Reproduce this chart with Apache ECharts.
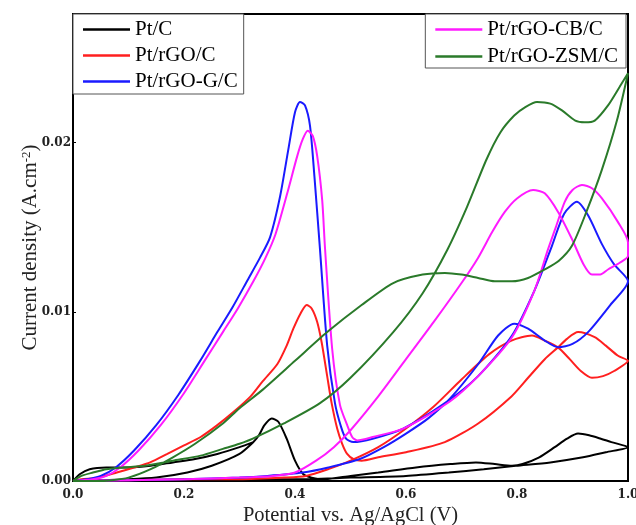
<!DOCTYPE html>
<html>
<head>
<meta charset="utf-8">
<title>CV curves</title>
<script src="https://cdn.jsdelivr.net/npm/echarts@6/dist/echarts.min.js"></script>
<style>
    html, body { margin: 0; padding: 0; background: #fff; }
    #main { width: 636px; height: 525px; }
</style>
</head>
<body>
<div id="main"></div>
<script>
// potential (V), current density (A/cm2)
var seriesNames = ['Pt/C', 'Pt/rGO/C', 'Pt/rGO-G/C', 'Pt/rGO-CB/C', 'Pt/rGO-ZSM/C'];
var xTicks = [0.0, 0.2, 0.4, 0.6, 0.8, 1.0];
var yTicks = [0.00, 0.01, 0.02];

// Pt/C
var ptcFwd = [[0, 0], [0.2, 0.00005], [0.3, 0.0001], [0.4, 0.0001], [0.5, 0.0002], [0.6, 0.0003], [0.677, 0.0005],
    [0.74, 0.0007], [0.798, 0.0009], [0.86, 0.0011], [0.919, 0.0014], [0.96, 0.0017], [1.0, 0.0020]];
var ptcRev = [[1.0, 0.0020], [0.97, 0.0023], [0.951, 0.0025], [0.93, 0.0027], [0.91, 0.0028], [0.89, 0.0025],
    [0.868, 0.0020], [0.84, 0.0014], [0.81, 0.0010], [0.791, 0.0009], [0.76, 0.0010], [0.726, 0.0011], [0.68, 0.0010],
    [0.618, 0.0008], [0.55, 0.0005], [0.5, 0.0003], [0.45, 0.0001], [0.43, 0.0002], [0.415, 0.0004], [0.40, 0.0012],
    [0.385, 0.0025], [0.37, 0.0035], [0.358, 0.0037], [0.345, 0.0033], [0.335, 0.0027], [0.325, 0.0023],
    [0.3, 0.0016], [0.25, 0.0009], [0.206, 0.0005], [0.15, 0.0002], [0.1, 0.0001], [0, 0]];
var ptcH = [[0, 0], [0.012, 0.0004], [0.03, 0.0007], [0.06, 0.0008], [0.1, 0.0008], [0.14, 0.0009], [0.18, 0.0011],
    [0.22, 0.0013], [0.26, 0.0016], [0.3, 0.0020], [0.325, 0.0023]];

// Pt/rGO/C
var rgoFwd = [[0, 0], [0.1, 0.00005], [0.2, 0.0001], [0.3, 0.0001], [0.38, 0.0002], [0.42, 0.0003], [0.46, 0.0007],
    [0.5, 0.0012], [0.55, 0.0020], [0.6, 0.0031], [0.65, 0.0044], [0.7, 0.0060], [0.75, 0.0075], [0.79, 0.0083],
    [0.827, 0.0086], [0.85, 0.0083], [0.874, 0.0079], [0.895, 0.0072], [0.915, 0.0065], [0.935, 0.0061],
    [0.955, 0.0062], [0.975, 0.0065], [1.0, 0.0071]];
var rgoRev = [[1.0, 0.0071], [0.982, 0.0074], [0.96, 0.0080], [0.94, 0.0085], [0.91, 0.0088], [0.89, 0.0084],
    [0.874, 0.0079], [0.85, 0.0072], [0.82, 0.0061], [0.79, 0.0050], [0.73, 0.0034], [0.67, 0.0023], [0.6, 0.0017],
    [0.55, 0.0014], [0.52, 0.0012], [0.505, 0.0013], [0.494, 0.0016], [0.485, 0.0022], [0.476, 0.0031],
    [0.466, 0.0046], [0.458, 0.0062], [0.448, 0.0082], [0.44, 0.0094], [0.43, 0.0102], [0.421, 0.0104],
    [0.41, 0.0099], [0.397, 0.0090], [0.385, 0.0080], [0.368, 0.0069], [0.342, 0.0059], [0.32, 0.0050],
    [0.29, 0.0041], [0.26, 0.0033], [0.23, 0.0026], [0.2, 0.0021], [0.17, 0.0016], [0.139, 0.0011], [0.11, 0.0008],
    [0.079, 0.0005], [0.045, 0.0002], [0.015, 0.0001], [0, 0]];

// Pt/rGO-G/C
var gFwd = [[0, 0], [0.1, 0.00005], [0.2, 0.0001], [0.3, 0.0002], [0.35, 0.0003], [0.414, 0.0005], [0.46, 0.0008],
    [0.517, 0.0013], [0.56, 0.0020], [0.6, 0.0028], [0.64, 0.0037], [0.68, 0.0049], [0.73, 0.0069], [0.766, 0.0086],
    [0.795, 0.0093], [0.82, 0.0090], [0.85, 0.0083], [0.874, 0.0079], [0.90, 0.0081], [0.928, 0.0088],
    [0.968, 0.0104], [1.0, 0.0118]];
var gRev = [[1.0, 0.0118], [0.975, 0.0128], [0.953, 0.0140], [0.928, 0.0157], [0.908, 0.0165], [0.885, 0.0158],
    [0.863, 0.0139], [0.832, 0.0113], [0.791, 0.0086], [0.73, 0.0062], [0.67, 0.0046], [0.595, 0.0031],
    [0.54, 0.0025], [0.505, 0.0023], [0.492, 0.0025], [0.483, 0.0032], [0.472, 0.0046], [0.458, 0.0080],
    [0.445, 0.0137], [0.435, 0.0180], [0.427, 0.0210], [0.418, 0.0222], [0.409, 0.0224], [0.400, 0.0218],
    [0.388, 0.0196], [0.373, 0.0168], [0.355, 0.0144], [0.337, 0.0132], [0.315, 0.0119], [0.288, 0.0103],
    [0.26, 0.0088], [0.229, 0.0071], [0.19, 0.0051], [0.15, 0.0033], [0.11, 0.0018], [0.077, 0.0008],
    [0.05, 0.0003], [0.025, 0.0001], [0, 0]];

// Pt/rGO-CB/C
var cbFwd = [[0, 0], [0.1, 0.00005], [0.2, 0.0001], [0.3, 0.0002], [0.36, 0.0003], [0.40, 0.0005], [0.438, 0.0012],
    [0.47, 0.0020], [0.5, 0.0030], [0.55, 0.0050], [0.6, 0.0072], [0.65, 0.0094], [0.7, 0.0117], [0.73, 0.0132],
    [0.755, 0.0147], [0.778, 0.0159], [0.80, 0.0167], [0.829, 0.0172], [0.85, 0.0170],
    [0.874, 0.0159], [0.899, 0.0143], [0.92, 0.0128], [0.935, 0.0122], [0.95, 0.0122], [0.964, 0.0125],
    [0.985, 0.0129], [1.0, 0.0133]];
var cbRev = [[1.0, 0.0141], [0.982, 0.0153], [0.953, 0.0167], [0.935, 0.0173], [0.917, 0.0175], [0.9, 0.0172],
    [0.886, 0.0165], [0.87, 0.0150], [0.856, 0.0137], [0.832, 0.0113], [0.791, 0.0085], [0.73, 0.0062],
    [0.679, 0.0047], [0.595, 0.0031], [0.54, 0.0026], [0.512, 0.0024], [0.503, 0.0026], [0.494, 0.0033],
    [0.481, 0.0045], [0.467, 0.0078], [0.454, 0.0138], [0.449, 0.0166], [0.44, 0.0192], [0.432, 0.0204],
    [0.423, 0.0207], [0.414, 0.0202], [0.404, 0.0192], [0.386, 0.0170], [0.365, 0.0146], [0.347, 0.0132],
    [0.325, 0.0118], [0.297, 0.0102], [0.27, 0.0088], [0.237, 0.0071], [0.198, 0.0051], [0.158, 0.0033],
    [0.118, 0.0018], [0.085, 0.0008], [0.06, 0.0003], [0.035, 0.0001], [0, 0]];

// Pt/rGO-ZSM/C
var zsmFwd = [[0, 0], [0.015, 0.0003], [0.036, 0.0005], [0.06, 0.0007], [0.09, 0.0008], [0.13, 0.0009],
    [0.18, 0.0012], [0.23, 0.0015], [0.27, 0.0019], [0.3, 0.0022], [0.324, 0.0025], [0.38, 0.0034],
    [0.445, 0.0046], [0.5, 0.0061], [0.577, 0.0088], [0.63, 0.0111], [0.675, 0.0137], [0.71, 0.0162],
    [0.745, 0.0190], [0.77, 0.0206], [0.795, 0.0216], [0.815, 0.0221], [0.836, 0.0224], [0.86, 0.0223],
    [0.881, 0.0219], [0.905, 0.0213], [0.922, 0.0212], [0.94, 0.0213], [0.964, 0.0222], [0.985, 0.0233],
    [1.0, 0.0241]];
var zsmRev = [[1.0, 0.0241], [0.98, 0.0213], [0.953, 0.0184], [0.925, 0.0159], [0.899, 0.0139], [0.875, 0.0130],
    [0.85, 0.0125], [0.82, 0.0120], [0.791, 0.0118], [0.76, 0.0118], [0.73, 0.0120], [0.70, 0.0122],
    [0.67, 0.0123], [0.63, 0.0122], [0.577, 0.0117], [0.52, 0.0104], [0.458, 0.0088], [0.40, 0.0071],
    [0.342, 0.0054], [0.30, 0.0043], [0.27, 0.0034], [0.22, 0.0022], [0.18, 0.0014], [0.14, 0.0007],
    [0.1, 0.0002], [0.07, 0.00005], [0.04, 0], [0, 0]];

var colors = ['#000000', '#ff1f1f', '#1a1aff', '#ff1aff', '#2a7a2a'];
var BREAK = ['-', '-'];
var serif = 'Liberation Serif';

function cvSeries(idx, data) {
    return {
        name: seriesNames[idx],
        type: 'line',
        data: data,
        symbol: 'none',
        showSymbol: false,
        smooth: 0.25,
        connectNulls: false,
        lineStyle: {color: colors[idx], width: 2},
        itemStyle: {color: colors[idx]}
    };
}

function legendBox(names, pos, gap, pad) {
    var lg = {
        data: names,
        top: 14,
        orient: 'vertical',
        icon: 'rect',
        itemWidth: 47,
        itemHeight: 2.5,
        itemGap: gap,
        padding: pad,
        borderColor: '#555',
        borderWidth: 1,
        borderRadius: 0,
        backgroundColor: '#fff',
        textStyle: {fontFamily: serif, fontSize: 21, lineHeight: 21, color: '#000'}
    };
    for (var k in pos) lg[k] = pos[k];
    return lg;
}

function init() {
    var chart = echarts.init(document.getElementById('main'), null, {renderer: 'canvas'});
    var option = {
        animation: false,
        backgroundColor: '#fff',
        grid: {
            left: 73, right: 8, top: 14, bottom: 44,
            containLabel: false, outerBoundsMode: 'none',
            show: true, borderColor: '#000', borderWidth: 2
        },
        legend: [
            legendBox(seriesNames.slice(0, 3), {left: 73}, 5, [5, 6, 2, 10]),
            legendBox(seriesNames.slice(3), {right: 10}, 6, [5, 8, 1, 10])
        ],
        xAxis: {
            type: 'value',
            min: xTicks[0],
            max: xTicks[xTicks.length - 1],
            interval: 0.2,
            name: 'Potential vs. Ag/AgCl (V)',
            nameLocation: 'middle',
            nameGap: 24,
            nameMoveOverlap: false,
            nameTextStyle: {fontFamily: serif, fontSize: 20.5, color: '#222'},
            axisLine: {lineStyle: {color: '#000', width: 2}},
            axisTick: {show: false},
            splitLine: {show: false},
            axisLabel: {
                margin: 8,
                fontFamily: 'DejaVu Serif', fontWeight: 'bold', fontSize: 12, color: '#222',
                formatter: function (v) { return v.toFixed(1); }
            }
        },
        yAxis: {
            type: 'value',
            min: yTicks[0],
            max: 0.0276,
            interval: 0.01,
            name: 'Current density (A.cm{sup|-2})',
            nameLocation: 'middle',
            nameGap: 32,
            nameMoveOverlap: false,
            nameTextStyle: {
                fontFamily: serif, fontSize: 21, color: '#222',
                rich: {sup: {fontFamily: serif, fontSize: 13, verticalAlign: 'top', color: '#222'}}
            },
            axisLine: {show: true, lineStyle: {color: '#000', width: 2}},
            axisTick: {show: true, inside: true, length: 3, lineStyle: {color: '#000'}},
            splitLine: {show: false},
            axisLabel: {
                margin: 2,
                showMaxLabel: false,
                fontFamily: 'DejaVu Serif', fontWeight: 'bold', fontSize: 12, color: '#222',
                formatter: function (v) { return yTicks.indexOf(Math.round(v * 100) / 100) >= 0 ? v.toFixed(2) : ''; }
            }
        },
        series: [
            cvSeries(0, ptcFwd.concat(ptcRev, [BREAK], ptcH)),
            cvSeries(1, rgoFwd.concat(rgoRev)),
            cvSeries(2, gFwd.concat(gRev)),
            cvSeries(3, cbFwd.concat(cbRev)),
            cvSeries(4, zsmFwd.concat(zsmRev))
        ]
    };
    chart.setOption(option);
}

init();
</script>
</body>
</html>
